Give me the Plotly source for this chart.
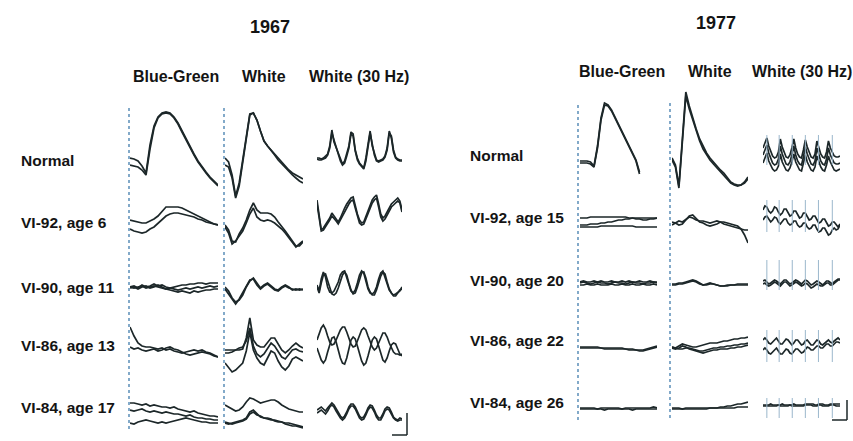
import numpy as np
import plotly.graph_objects as go

W, H = 853, 441

# ---------------- text ----------------
years = ["1967", "1977"]
columns = ["Blue-Green", "White", "White (30 Hz)"]
labels_1967 = ["Normal", "VI-92, age 6", "VI-90, age 11", "VI-86, age 13", "VI-84, age 17"]
labels_1977 = ["Normal", "VI-92, age 15", "VI-90, age 20", "VI-86, age 22", "VI-84, age 26"]

# flicker stimulus marks, fraction of sweep (1977 recordings)
flicker_marks_1977 = [0.05, 0.21, 0.38, 0.55, 0.72, 0.90]

# ---------------- 1967 traces (amplitude, + = up) ----------------
bg67_normal = [
    [0, -1, -3, -8, -15, 13, 32, 41, 45, 46, 45, 41, 35, 27, 19, 11, 4, -3, -9, -14, -19, -23, -27],
    [-7, -8, -9, -12, -17, 9, 30, 40, 44, 45, 44, 40, 34, 26, 18, 10, 3, -4, -10, -15, -20, -24, -28],
]
wh67_normal = [
    [0, -4, -17, -38, -25, -2, 22, 44, 45, 38, 27, 17, 12, 8, 3, -1, -5, -9, -12, -15, -17, -19, -21],
    [-7, -9, -20, -40, -28, -4, 20, 43, 45, 38, 27, 17, 12, 8, 3, -2, -6, -10, -14, -17, -20, -23, -25],
]
hz67_normal = [
    [0, 0, -1, 0, 2, 4, 12, 28, 16, 10, 4, -2, -6, -3, 4, 12, 26, 24, 8, 0, -5, -8, -10, 0, 14, 27, 12, 4, -2, -3, -2, -1, 2, 10, 27, 20, 6, 0, -2, -3, -3],
    [-1, -2, -2, -1, 0, 3, 10, 25, 18, 9, 3, -3, -7, -5, 2, 10, 24, 22, 7, -2, -6, -9, -11, -3, 12, 25, 14, 3, -3, -4, -3, -2, 1, 8, 25, 22, 8, 1, -1, -2, -2],
]
bg67_vi92 = [
    [2, 1, 0, -1, -1, 1, 3, 6, 11, 15, 15, 15, 15, 14, 12, 10, 8, 6, 4, 2, 0, -2, -3],
    [-7, -9, -10, -11, -10, -7, -5, -1, 3, 6, 8, 9, 9, 8, 7, 6, 5, 3, 2, 0, -1, -2, -3],
]
wh67_vi92 = [
    [-3, -8, -19, -20, -12, -6, 2, 12, 19, 12, 9, 9, 9, 8, 5, 0, -4, -9, -14, -19, -24, -24, -20],
    [-5, -11, -22, -19, -14, -9, -1, 8, 14, 5, 2, 1, 2, 1, -1, -4, -7, -11, -16, -21, -25, -22, -19],
]
hz67_vi92 = [
    [22, 5, -8, -6, -3, 0, 4, 9, 6, 3, 0, 4, 10, 14, 18, 21, 24, 25, 16, 8, 2, -1, 0, 6, 12, 18, 22, 25, 27, 18, 8, 4, 6, 10, 14, 18, 20, 22, 24, 21, 12],
    [18, 2, -9, -8, -5, -2, 2, 6, 4, 1, -2, 2, 7, 11, 15, 18, 21, 22, 14, 5, -1, -3, -2, 3, 9, 15, 19, 22, 24, 15, 5, 1, 3, 7, 11, 15, 17, 19, 21, 19, 10],
]
bg67_vi90 = [
    [0, 1, -1, 2, 0, 1, 3, 1, 2, 0, -1, 0, 1, 2, 2, 3, 3, 4, 4, 3, 4, 4, 4],
    [-1, 0, -2, 0, 1, -1, 0, 2, 0, -2, -3, -4, -5, -4, -5, -6, -4, -5, -4, -3, -3, -2, -2],
    [0, -1, 0, 1, -1, 0, 1, 0, -1, -2, -1, -2, -3, -2, -1, -2, -1, 0, -1, 0, 1, 0, 1],
]
wh67_vi90 = [
    [0, -4, -11, -15, -13, -8, 0, 6, 9, 4, -1, 2, 4, 1, -2, -3, 0, 2, 0, -3, -2, -3, -2],
    [-2, -7, -13, -17, -12, -6, 1, 7, 8, 2, -2, 1, 3, 0, -3, -4, -1, 1, -1, -2, -3, -2, -3],
]
hz67_vi90 = [
    [2, -4, 8, 15, 10, 0, -5, -6, -4, 0, 5, 12, 15, 16, 10, 2, -4, -6, -3, 4, 12, 16, 14, 6, -2, -6, -7, -5, 0, 8, 14, 16, 10, 2, -3, -6, -8, -7, -5, -4, 0],
    [0, -6, 4, 12, 13, 6, -2, -7, -8, -6, -1, 6, 12, 15, 12, 4, -3, -7, -6, 0, 8, 14, 15, 9, 0, -5, -8, -8, -3, 4, 11, 15, 13, 5, -2, -6, -9, -9, -6, -3, -2],
]
bg67_vi86 = [
    [19, 10, 3, 0, -1, -1, -2, -3, -2, -4, -3, -5, -6, -7, -6, -5, -4, -5, -4, -6, -7, -9, -11],
    [-1, -3, -2, -4, -5, -4, -3, -5, -4, -2, -1, -3, -4, -6, -8, -9, -8, -7, -6, -7, -8, -10, -11],
]
wh67_vi86 = [
    [-4, -4, -4, -4, -4, -3, 8, 28, 6, 1, -1, -1, 4, 8, 8, 2, -4, -7, -4, 0, 3, 0, -2],
    [-7, -7, -6, -4, -2, -1, 5, 18, 0, -8, -11, -8, -2, 3, 0, -6, -11, -13, -9, -4, -3, -5, -6],
    [-17, -22, -26, -24, -20, -17, -5, 14, -4, -12, -17, -19, -12, -5, -7, -15, -21, -24, -20, -13, -11, -13, -15],
]
hz67_vi86 = [
    [6, 12, 18, 21, 17, 10, 4, 1, 2, 6, 11, 16, 19, 19, 14, 7, 2, -1, 0, 5, 11, 16, 18, 16, 10, 4, -1, -4, -2, 3, 9, 13, 13, 9, 3, -2, -6, -8, -8, -9, -8],
    [-2, -8, -14, -17, -14, -6, 2, 8, 9, 4, -4, -12, -17, -18, -12, -2, 6, 9, 7, 0, -8, -15, -19, -17, -10, -1, 6, 9, 7, 0, -8, -14, -16, -12, -5, 1, 3, 2, -3, -8, -10],
]
bg67_vi84 = [
    [7, 7, 6, 5, 6, 4, 5, 4, 3, 3, 2, 3, 1, 0, -1, -2, -1, -3, -4, -5, -6, -6, -7],
    [0, -1, 0, 1, -1, -2, -1, -2, -3, -2, -3, -4, -4, -5, -6, -5, -7, -8, -8, -9, -9, -10, -10],
    [-13, -14, -12, -11, -10, -11, -12, -13, -12, -13, -12, -11, -10, -9, -8, -9, -10, -11, -12, -12, -13, -13, -13],
]
wh67_vi84 = [
    [5, 3, 1, -1, 0, 3, 8, 12, 11, 9, 7, 8, 9, 10, 10, 8, 5, 3, 1, 0, -1, -2, -2],
    [-13, -14, -13, -12, -11, -10, -8, -2, 0, -4, -7, -8, -9, -10, -10, -11, -12, -13, -13, -14, -15, -16, -17],
    [-12, -13, -14, -13, -12, -11, -9, -4, -2, -5, -6, -8, -8, -9, -11, -12, -12, -14, -15, -16, -16, -17, -18],
]
hz67_vi84 = [
    [0, 2, 3, 1, -1, 2, 5, 7, 5, 1, -3, -6, -8, -6, -2, 3, 6, 6, 3, -2, -6, -8, -7, -3, 2, 5, 4, 0, -5, -8, -8, -4, 1, 3, 2, -2, -7, -9, -10, -8, -9],
    [-3, -1, 0, -2, -4, -1, 3, 5, 3, -1, -5, -8, -10, -8, -4, 1, 4, 4, 1, -4, -8, -10, -9, -5, 0, 3, 2, -2, -7, -10, -10, -6, -1, 1, 0, -4, -8, -10, -11, -10, -10],
]

# ---------------- 1977 traces ----------------
bg77_normal = [
    [-3, -3, -3, -4, -8, 12, 40, 55, 53, 48, 41, 34, 27, 20, 13, 5, -2, -14, None, None, None, None, None],
    [-5, -5, -5, -6, -9, 10, 38, 53, 52, 47, 40, 33, 26, 19, 12, 4, -3, -16, None, None, None, None, None],
]
wh77_normal = [
    [0, -7, -28, 20, 66, 52, 40, 29, 19, 12, 5, 0, -4, -9, -12, -15, -20, -24, -26, -27, -27, -24, -19],
    [-2, -9, -30, 15, 62, 49, 38, 27, 17, 9, 3, -2, -6, -10, -13, -17, -21, -25, -27, -28, -27, -25, -21],
]
hz77_normal = [
    [10, 15, 20, 12, 6, 2, 0, 1, 6, 19, 11, 5, 1, 0, 3, 10, 19, 10, 4, 1, 0, 8, 18, 11, 5, 1, 0, 4, 17, 10, 4, 1, 0, 6, 17, 10, 5, 2, 1, 1, 2],
    [3, 8, 13, 5, -1, -5, -7, -6, -1, 12, 4, -2, -6, -7, -4, 3, 12, 3, -3, -6, -7, 1, 11, 4, -2, -6, -7, -3, 10, 3, -3, -6, -7, -1, 10, 3, -2, -5, -6, -6, -5],
    [-5, 0, 5, -3, -8, -11, -13, -12, -8, 4, -4, -9, -12, -13, -10, -4, 4, -4, -9, -12, -13, -6, 3, -4, -9, -12, -13, -9, 2, -4, -9, -12, -13, -7, 2, -4, -9, -12, -13, -12, -11],
]
bg77_vi92 = [
    [2, 2, 2, 3, 3, 3, 3, 3, 3, 3, 3, 3, 3, 3, 2, 2, 1, 1, 0, 0, 1, 1, 2],
    [-7, -7, -7, -7, -7, -7, -6, -6, -6, -6, -6, -6, -6, -6, -6, -6, -7, -7, -7, -7, -7, -7, -7],
    [-5, -5, -5, -4, -4, -4, -3, -3, -2, -2, -1, 0, 0, 1, 1, 2, 2, 2, 2, 2, 2, 2, 2],
]
wh77_vi92 = [
    [-2, -3, -5, -4, 0, 4, 5, 2, -2, -3, -5, -6, -5, -4, -2, -2, -3, -4, -5, -6, -9, -15, -23],
    [-5, -3, -1, -2, 1, 3, 2, 0, -1, -1, -2, -3, -2, -1, -2, -4, -5, -6, -7, -8, -9, -10, -10],
]
hz77_vi92 = [
    [10, 14, 13, 9, 7, 9, 13, 12, 8, 5, 7, 11, 11, 7, 4, 5, 9, 9, 5, 2, 3, 7, 7, 3, 0, 1, 4, 4, 0, -3, -2, 1, 1, -3, -6, -5, -2, -2, -5, -7, -4],
    [0, 3, 4, 1, -2, 0, 3, 2, -2, -4, -2, 1, 1, -3, -5, -4, -1, -1, -5, -7, -6, -3, -3, -7, -9, -8, -5, -5, -9, -12, -11, -8, -8, -12, -15, -14, -10, -8, -10, -9, -5],
]
bg77_vi90 = [
    [0, 1, 0, -1, 0, 1, 0, 0, -1, 0, 1, 0, 0, -1, 0, 1, 0, 0, -1, 0, 0, 1, 0],
    [-2, -2, -1, -2, -2, -1, -2, -2, -2, -1, -2, -2, -1, -2, -2, -1, -2, -2, -1, -2, -2, -1, -2],
    [1, 2, 1, 1, 2, 1, 2, 1, 1, 2, 1, 1, 2, 1, 2, 1, 1, 2, 1, 1, 2, 1, 1],
]
wh77_vi90 = [
    [-1, -1, 0, 0, 1, 2, 3, 2, 0, -2, -1, 0, -1, -2, -3, -3, -2, -2, -2, -1, -1, -1, -1],
    [-2, -2, -1, -1, 0, 1, 2, 1, -1, -2, -2, -1, -1, -2, -3, -3, -3, -2, -2, -2, -2, -2, -2],
]
hz77_vi90 = [
    [2, 3, 1, -1, 0, 2, 3, 2, 0, -1, 1, 3, 3, 1, -1, 0, 2, 3, 2, 0, -1, 1, 3, 2, 0, -2, -1, 1, 2, 1, -1, -2, 0, 2, 2, 0, -1, 1, 3, 4, 4],
    [-1, 0, -2, -3, -2, 0, 1, 0, -2, -3, -1, 1, 1, -1, -3, -2, 0, 1, 0, -2, -3, -2, 0, -1, -3, -5, -4, -2, -1, -2, -3, -3, -1, 0, 0, -2, -2, 0, 2, 3, 3],
]
bg77_vi86 = [
    [-1, -1, -1, -1, -1, -1, -2, -2, -2, -2, -2, -2, -2, -3, -3, -3, -4, -4, -4, -3, -2, -1, 0],
    [-2, -2, -2, -2, -2, -2, -2, -3, -3, -3, -3, -3, -3, -3, -4, -4, -4, -5, -5, -4, -3, -2, -1],
]
wh77_vi86 = [
    [-1, -2, 0, 2, 1, 0, -1, -1, 0, 1, 2, 3, 3, 3, 4, 5, 5, 6, 7, 7, 8, 8, 9],
    [-1, -2, -3, -3, -2, -2, -3, -4, -5, -5, -4, -3, -2, -2, -1, -1, 0, 0, 1, 1, 2, 2, 3],
    [-2, -3, -2, 0, -1, -3, -4, -5, -6, -7, -6, -5, -4, -4, -3, -3, -3, -2, -2, -1, -1, 0, 1],
]
hz77_vi86 = [
    [6, 8, 6, 3, 2, 4, 7, 8, 5, 2, 2, 5, 7, 6, 3, 1, 3, 6, 6, 3, 1, 2, 5, 6, 4, 1, 1, 4, 6, 5, 2, 1, 3, 5, 6, 4, 3, 5, 7, 8, 6],
    [-4, -2, -4, -7, -8, -6, -3, -2, -5, -8, -8, -5, -3, -4, -7, -8, -6, -3, -3, -5, -7, -6, -3, -1, -2, -4, -4, -2, 0, 0, -2, -2, 0, 2, 2, 0, 0, 2, 4, 4, 3],
]
bg77_vi84 = [
    [0, 0, 0, 0, 0, -1, 0, 0, 0, 0, 0, 0, -1, 0, 0, 0, 0, 0, 0, 0, 0, 1, 0],
    [-1, -1, -1, -1, -1, -1, -1, -2, -1, -1, -1, -1, -1, -1, -1, -2, -1, -1, -1, -1, -1, -1, -1],
]
wh77_vi84 = [
    [0, 0, 0, -1, 0, 0, 0, 0, 0, 0, 0, 0, 0, 0, 1, 1, 2, 2, 3, 4, 4, 5, 6],
    [-1, -1, -1, -1, -1, -1, -1, -1, -1, -1, -1, 0, 0, 0, 0, 0, 0, 0, 0, 1, 1, 1, 1],
]
hz77_vi84 = [
    [3, 3, 3, 3, 4, 3, 3, 3, 3, 3, 4, 3, 3, 3, 3, 3, 4, 3, 3, 3, 3, 3, 4, 4, 4, 4, 4, 3, 3, 4, 4, 4, 3, 3, 3, 4, 4, 4, 4, 4, 4],
    [2, 2, 2, 2, 2, 2, 2, 2, 3, 2, 2, 2, 2, 2, 3, 2, 2, 2, 2, 2, 2, 2, 3, 3, 3, 3, 2, 2, 2, 3, 3, 2, 2, 2, 2, 3, 3, 3, 2, 2, 2],
]

cells_1967 = [
    [bg67_normal, wh67_normal, hz67_normal],
    [bg67_vi92, wh67_vi92, hz67_vi92],
    [bg67_vi90, wh67_vi90, hz67_vi90],
    [bg67_vi86, wh67_vi86, hz67_vi86],
    [bg67_vi84, wh67_vi84, hz67_vi84],
]
cells_1977 = [
    [bg77_normal, wh77_normal, hz77_normal],
    [bg77_vi92, wh77_vi92, hz77_vi92],
    [bg77_vi90, wh77_vi90, hz77_vi90],
    [bg77_vi86, wh77_vi86, hz77_vi86],
    [bg77_vi84, wh77_vi84, hz77_vi84],
]

# ---------------- layout geometry (pixels) ----------------
col_x_1967 = [(130, 218), (225, 303), (317, 402)]
col_x_1977 = [(580, 657), (672, 748), (763, 840)]
row_y_1967 = [158, 222, 287, 346, 410]
row_y_1977 = [158, 220, 283, 346, 408]
marker_span_1977 = [(-7, 23), (-12, 20), (-7, 23), (-16, 16), (-10, 10)]

TRACE_COLOR = "#1c2729"
MARK_COLOR = "#9bb7cc"
DOT_COLOR = "#4f86b3"
FONT = "Liberation Sans, Arial, Helvetica, sans-serif"


def px(x):
    return x / W


def py(y):
    return 1 - y / H


fig = go.Figure()
layout_axes = {}
shapes = []
n = 0


def add_cell(traces, xspan, yc, marks=None, mspan=None):
    global n
    n += 1
    lo, hi = -60, 70
    if yc - lo > H:
        lo = yc - H
    if yc - hi < 0:
        hi = yc
    xk = "xaxis" if n == 1 else f"xaxis{n}"
    yk = "yaxis" if n == 1 else f"yaxis{n}"
    xr = "x" if n == 1 else f"x{n}"
    yr = "y" if n == 1 else f"y{n}"
    layout_axes[xk] = dict(domain=[px(xspan[0]), px(xspan[1])], range=[0, 1],
                           visible=False, fixedrange=True, anchor=yr)
    layout_axes[yk] = dict(domain=[py(yc - lo), py(yc - hi)], range=[lo, hi],
                           visible=False, fixedrange=True, anchor=xr)
    if marks:
        for t in marks:
            shapes.append(dict(type="line", xref=xr, yref=yr, x0=t, x1=t,
                               y0=mspan[0], y1=mspan[1],
                               line=dict(color=MARK_COLOR, width=1)))
    for tr in traces:
        t = np.linspace(0, 1, len(tr))
        fig.add_trace(go.Scatter(x=t, y=tr, xaxis=xr, yaxis=yr, mode="lines",
                                 line=dict(color=TRACE_COLOR, width=1.7),
                                 connectgaps=False, hoverinfo="skip",
                                 showlegend=False))


for r, row in enumerate(cells_1967):
    for c, traces in enumerate(row):
        add_cell(traces, col_x_1967[c], row_y_1967[r])

for r, row in enumerate(cells_1977):
    for c, traces in enumerate(row):
        if c == 2:
            add_cell(traces, col_x_1977[c], row_y_1977[r],
                     flicker_marks_1977, marker_span_1977[r])
        else:
            add_cell(traces, col_x_1977[c], row_y_1977[r])

# dotted time-zero lines
for (x, y0, y1) in [(129, 108, 431), (224, 108, 431), (578, 105, 421), (670, 103, 421)]:
    shapes.append(dict(type="line", xref="paper", yref="paper",
                       x0=px(x), x1=px(x), y0=py(y0), y1=py(y1),
                       line=dict(color=DOT_COLOR, width=1.4, dash="dot")))

# calibration bars
for (xv, yt, yb, xl) in [(407, 413, 435, 392), (847, 400, 420, 832)]:
    shapes.append(dict(type="line", xref="paper", yref="paper",
                       x0=px(xv), x1=px(xv), y0=py(yt), y1=py(yb),
                       line=dict(color=TRACE_COLOR, width=1.5)))
    shapes.append(dict(type="line", xref="paper", yref="paper",
                       x0=px(xl), x1=px(xv), y0=py(yb), y1=py(yb),
                       line=dict(color=TRACE_COLOR, width=1.5)))

ann = []


def text(s, x, y, size, anchor="center"):
    ann.append(dict(text=s, x=px(x), y=py(y), xref="paper", yref="paper",
                    xanchor=anchor, yanchor="middle", showarrow=False,
                    font=dict(family=FONT, size=size, color="#141414", weight=700)))


text(years[0], 270, 27, 18)
text(years[1], 716, 23, 18)
for name, x in zip(columns, [176, 264, 359]):
    text(name, x, 76, 16)
for name, x in zip(columns, [622, 710, 802]):
    text(name, x, 71, 16)
for lab, y in zip(labels_1967, [160, 222, 287, 345, 407]):
    text(lab, 19, y, 15.5, "left")
for lab, y in zip(labels_1977, [155, 217, 280, 340, 402]):
    text(lab, 468, y, 15.5, "left")

fig.update_layout(width=W, height=H, margin=dict(l=0, r=0, t=0, b=0),
                  paper_bgcolor="white", plot_bgcolor="rgba(0,0,0,0)",
                  showlegend=False, shapes=shapes, annotations=ann,
                  **layout_axes)

fig.write_html("out.html", config={"displayModeBar": False, "staticPlot": True})

# remove the browser's default page margin so the figure sits at (0, 0)
with open("out.html", "r", encoding="utf-8") as f:
    page = f.read()
page = page.replace("<head>", "<head><style>html,body{margin:0;padding:0;overflow:hidden;}</style>", 1)
with open("out.html", "w", encoding="utf-8") as f:
    f.write(page)
